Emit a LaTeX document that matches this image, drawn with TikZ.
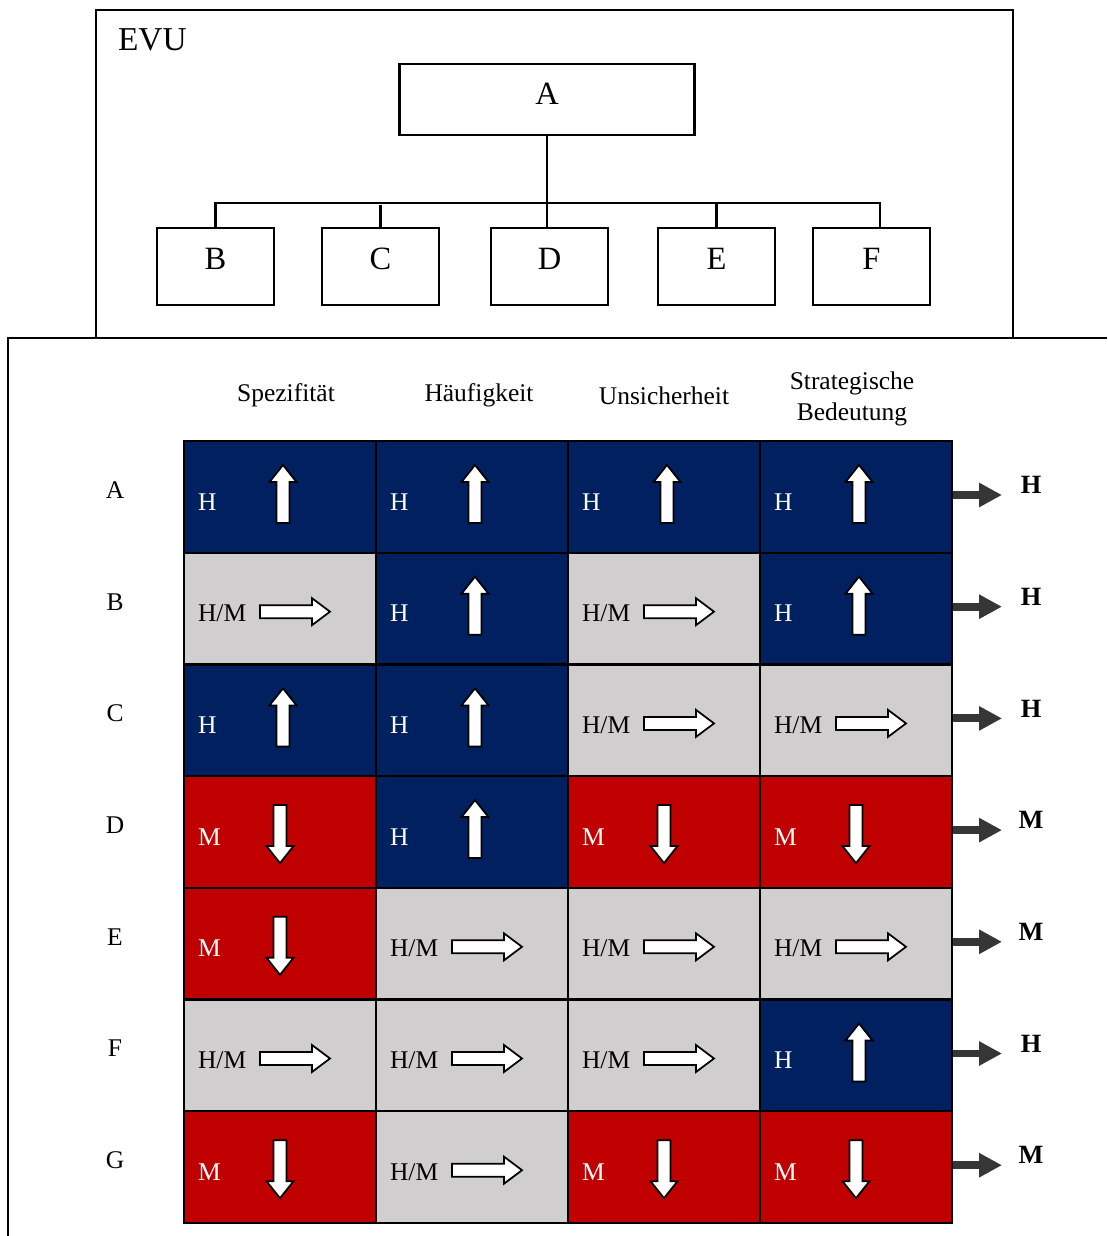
\documentclass[tikz,border=0pt]{standalone}
\usepackage{fontspec}
\setmainfont{Liberation Serif}
\usetikzlibrary{arrows.meta, positioning, calc}
\definecolor{mNavy}{HTML}{002060}
\definecolor{mRed}{HTML}{C00000}
\definecolor{mSilver}{HTML}{D0CECE}
\definecolor{mDark}{HTML}{363636}

% white block arrows, #1 = tip
\newcommand\pfeilhoch[1]{\draw[blockpfeil] (#1) -- ++(13.5,17) -- ++(-7,0) -- ++(0,41) -- ++(-13,0) -- ++(0,-41) -- ++(-7,0) -- cycle;}
\newcommand\pfeilrunter[1]{\draw[blockpfeil] (#1) -- ++(13.5,-17) -- ++(-7,0) -- ++(0,-41) -- ++(-13,0) -- ++(0,41) -- ++(-7,0) -- cycle;}
\newcommand\pfeilrechts[1]{\draw[blockpfeil] (#1) -- ++(-18,-13.5) -- ++(0,7) -- ++(-52,0) -- ++(0,13) -- ++(52,0) -- ++(0,7) -- cycle;}
% cell contents, #1 = cell name
\newcommand\inhalth[1]{%
  \node[wert, text=white] (#1-t) at ($(#1.north west)+(14,70)$) {H};
  \pfeilhoch{$(#1.north west)+(100,25)$}}
\newcommand\inhaltm[1]{%
  \node[wert, text=white] (#1-t) at ($(#1.north west)+(14,70)$) {M};
  \pfeilrunter{$(#1.north west)+(97,88)$}}
\newcommand\inhaltn[1]{%
  \node[wert] (#1-t) at ($(#1.north west)+(14,70)$) {H/M};
  \pfeilrechts{$(#1.north west)+(147,60)$}}

\begin{document}
\begin{tikzpicture}[x=0.02cm, y=-0.02cm, line width=1.2pt,
      every node/.style={font=\fontsize{14.5}{18}\selectfont},
      box/.style={draw, inner sep=0pt, text height=12pt, text depth=9pt, font=\fontsize{18.5}{20}\selectfont},
      zelle/.style={draw, anchor=north west, inner sep=0pt, minimum width=3.84cm, minimum height=2.234cm},
      zh/.style={fill=mNavy}, zm/.style={fill=mRed}, zn/.style={fill=mSilver},
      wert/.style={anchor=base west, inner sep=0pt},
      blockpfeil/.style={draw=black, fill=white, line width=1pt, line join=miter},
      res/.style={mDark, line width=4.5pt, -{Triangle[length=13pt, width=13pt]}}]
    \useasboundingbox (0,0) rectangle (1107,1236);

    % frames
    \draw (96,10) rectangle (1013,338);
    \draw (8,1236) |- (1107,338);
    \node[anchor=west, inner sep=0pt, font=\fontsize{19}{20}\selectfont] (evu) at (117,40) {EVU};

    % organisation chart
    \node[box, minimum width=5.9cm, minimum height=1.42cm, text depth=6pt] (a) at (547,99.5) {A};
    \foreach \n/\x in {b/215.5, c/380.5, d/549.5, e/716.5, f/871.5}
      \node[box, minimum width=2.34cm, minimum height=1.54cm] (\n) at (\x,266.5) {\MakeUppercase{\n}};
    \coordinate (bus) at (547,203);
    \draw (a.south) -- (a.south |- d.north);
    \draw (b.north) |- (bus) -| ($(f.north)+(8.5,0)$);
    \draw (c.north) -- ++(0,-22);
    \draw (e.north) -- (e.north |- bus);

    % column heads
    \node (k1) at (286,395) {Spezifität};
    \node (k2) at (479,395) {Häufigkeit};
    \node (k3) at (664,396) {Unsicherheit};
    \node[align=center] (k4) at (852,399) {Strategische\\Bedeutung};

    % matrix: h = high, m = medium, n = high/medium
    \foreach \zeile/\erg/\name [count=\r] in {{h,h,h,h}/H/A, {n,h,n,h}/H/B, {h,h,n,n}/H/C,
        {m,h,m,m}/M/D, {m,n,n,n}/M/E, {n,n,n,h}/H/F, {m,n,m,m}/M/G} {
      \pgfmathsetmacro\y{440+(\r-1)*111.7}
      \node (r\r) at (115,\y+50) {\name};
      \foreach \typ [count=\s] in \zeile {
        \pgfmathsetmacro\x{183+(\s-1)*192}
        \node[zelle, z\typ] (z\r-\s) at (\x,\y) {};
        \csname inhalt\typ\endcsname{z\r-\s}
      }
      \node[inner sep=0pt, font=\fontsize{15}{18}\selectfont\bfseries] (e\r) at (1031,\y+45) {\erg};
      \coordinate (p\r) at (1002,\y+55);
      \draw[res] (z\r-4.east |- p\r) -- (p\r);
    }
  \end{tikzpicture}
\end{document}
